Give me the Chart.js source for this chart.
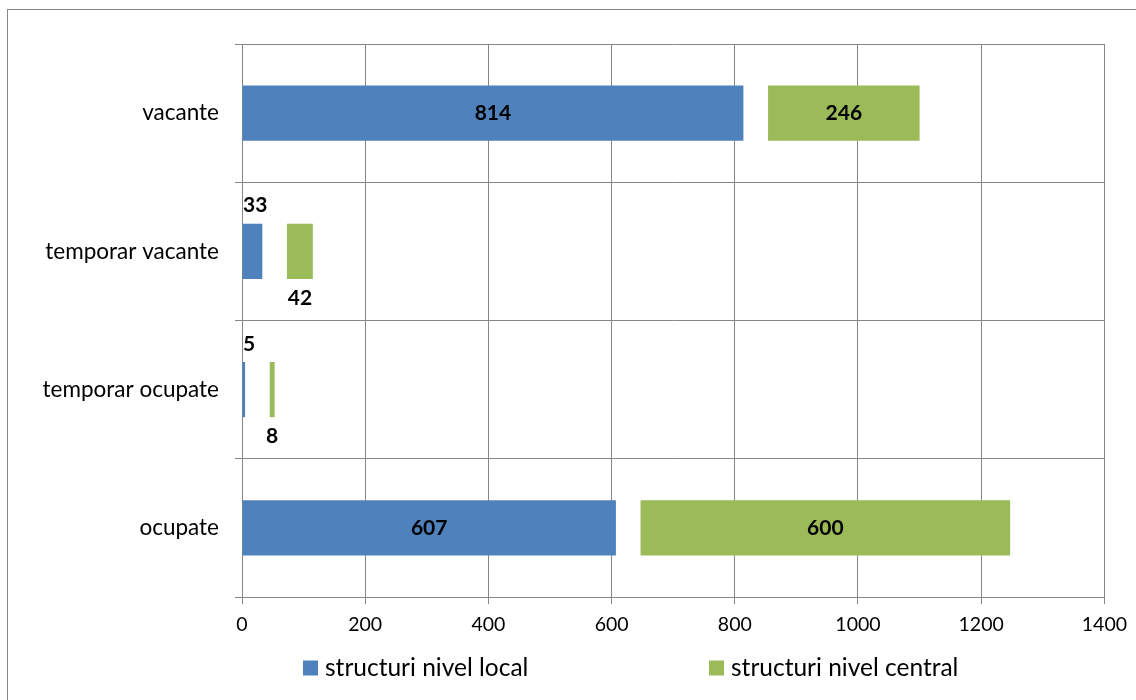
<!DOCTYPE html>
<html>
<head>
<meta charset="utf-8">
<script src="https://cdn.jsdelivr.net/npm/chart.js@4.4.1/dist/chart.umd.min.js"></script>
<style>
html,body{margin:0;padding:0;background:#fff;}
#wrap{position:absolute;left:0;top:0;width:1136px;height:700px;}
</style>
</head>
<body>
<div id="wrap"><canvas id="c" width="1136" height="700"></canvas></div>
<script>
const categories = ['vacante', 'temporar vacante', 'temporar ocupate', 'ocupate'];
const localValues = [814, 33, 5, 607];
const gapValues = [40, 40, 40, 40];
const centralValues = [246, 42, 8, 600];
const seriesNames = ['structuri nivel local', 'structuri nivel central'];
const xMin = 0, xMax = 1400, xStep = 200;

const FONT = 'Lato, "Open Sans", sans-serif';
const GRID = '#868686';
const BLUE = '#4F81BD';
const GREEN = '#9BBB59';

const framePlugin = {
  id: 'frame',
  beforeDraw(chart) {
    const ctx = chart.ctx;
    ctx.save();
    ctx.fillStyle = '#fff';
    ctx.fillRect(0, 0, chart.width, chart.height);
    ctx.strokeStyle = GRID;
    ctx.lineWidth = 1;
    ctx.strokeRect(7.5, 9.5, chart.width + 20, chart.height + 20);
    ctx.restore();
  }
};

const labelPlugin = {
  id: 'valueLabels',
  afterDatasetsDraw(chart) {
    const ctx = chart.ctx;
    ctx.save();
    ctx.font = 'bold 21px ' + FONT;
    ctx.fillStyle = '#000';
    ctx.textAlign = 'center';
    ctx.textBaseline = 'middle';
    const sets = [{ds: 0, vals: localValues, above: true}, {ds: 2, vals: centralValues, above: false}];
    sets.forEach(s => {
      const meta = chart.getDatasetMeta(s.ds);
      meta.data.forEach((bar, i) => {
        const p = bar.getProps(['x', 'y', 'base', 'height'], true);
        const left = Math.min(p.x, p.base), right = Math.max(p.x, p.base);
        const txt = String(s.vals[i]);
        const w = ctx.measureText(txt).width;
        let cx = (left + right) / 2;
        let cy = p.y;
        if (right - left < w + 20) {
          cx = Math.max(cx, chart.chartArea.left + 1 + w / 2);
          cy = s.above ? p.y - p.height / 2 - 18 : p.y + p.height / 2 + 19;
        }
        ctx.fillText(txt, cx, cy);
      });
    });
    ctx.restore();
  }
};

const legendPlugin = {
  id: 'customLegend',
  afterDraw(chart) {
    const ctx = chart.ctx;
    const items = [{x: 303, color: BLUE, text: seriesNames[0]}, {x: 709, color: GREEN, text: seriesNames[1]}];
    const y = 668;
    ctx.save();
    ctx.font = '24.5px ' + FONT;
    ctx.fillStyle = '#000';
    ctx.textAlign = 'left';
    ctx.textBaseline = 'middle';
    items.forEach(it => {
      ctx.fillStyle = it.color;
      ctx.fillRect(it.x, y - 7.5, 15, 15);
      ctx.fillStyle = '#000';
      ctx.fillText(it.text, it.x + 22, y);
    });
    ctx.restore();
  }
};

new Chart(document.getElementById('c'), {
  type: 'bar',
  data: {
    labels: categories,
    datasets: [
      {label: seriesNames[0], data: localValues, backgroundColor: BLUE, stack: 's'},
      {label: 'gap', data: gapValues, backgroundColor: 'rgba(0,0,0,0)', stack: 's'},
      {label: seriesNames[1], data: centralValues, backgroundColor: GREEN, stack: 's'}
    ]
  },
  options: {
    indexAxis: 'y',
    responsive: false,
    animation: false,
    devicePixelRatio: 1,
    layout: {padding: {top: 44, right: 31, bottom: 53, left: 0}},
    datasets: {bar: {categoryPercentage: 1, barPercentage: 0.4}},
    plugins: {legend: {display: false}, tooltip: {enabled: false}},
    scales: {
      x: {
        stacked: true,
        min: xMin, max: xMax,
        ticks: {stepSize: xStep, color: '#000', font: {family: FONT, size: 19.5}, padding: 9, maxRotation: 0,
                callback: v => String(v)},
        grid: {color: GRID, lineWidth: 1, tickLength: 7},
        border: {color: GRID, width: 1},
        afterFit(s) { s.height = 50; }
      },
      y: {
        stacked: true,
        ticks: {color: '#000', font: {family: FONT, size: 22.5}, padding: 16},
        grid: {color: GRID, lineWidth: 1, tickLength: 7, offset: true},
        border: {color: GRID, width: 1},
        afterFit(s) { s.width = 242; }
      }
    }
  },
  plugins: [framePlugin, labelPlugin, legendPlugin]
});
</script>
</body>
</html>
